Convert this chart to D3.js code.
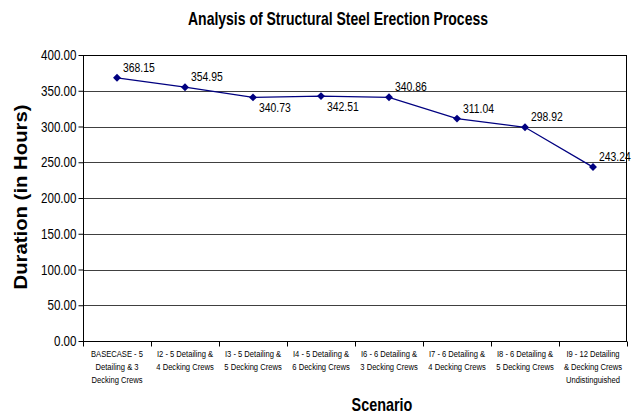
<!DOCTYPE html>
<html><head><meta charset="utf-8">
<script src="https://cdn.jsdelivr.net/npm/d3@7"></script>
<style>body{margin:0;background:#fff}svg{display:block}</style>
</head><body>
<script>
const categories = [
  ["BASECASE - 5","Detailing & 3","Decking Crews"],
  ["I2 - 5 Detailing &","4 Decking Crews"],
  ["I3 - 5 Detailing &","5 Decking Crews"],
  ["I4 - 5 Detailing &","6 Decking Crews"],
  ["I6 - 6 Detailing &","3 Decking Crews"],
  ["I7 - 6 Detailing &","4 Decking Crews"],
  ["I8 - 6 Detailing &","5 Decking Crews"],
  ["I9 - 12 Detailing","& Decking Crews","Undistinguished"]
];
const durations = [368.15, 354.95, 340.73, 342.51, 340.86, 311.04, 298.92, 243.24];
const labelBelow = [false, false, true, true, false, false, false, false];
const yTicks = [0,50,100,150,200,250,300,350,400];

const W=633,H=416;
const m={left:83,right:6,top:55,bottom:75};
const SX=0.8;
const svg=d3.select("body").append("svg").attr("width",W).attr("height",H);
const font="'Liberation Sans',Arial,sans-serif";
const x=d3.scaleBand().domain(d3.range(categories.length)).range([m.left,W-m.right]);
const y=d3.scaleLinear().domain([0,400]).range([H-m.bottom,m.top]);

function ntext(parent,px,py,anchor,size,weight){
  return parent.append("g").attr("transform",`translate(${px},${py}) scale(${SX},1)`)
    .append("text").attr("text-anchor",anchor).attr("font-family",font)
    .attr("font-size",size).attr("font-weight",weight||"normal").attr("fill","#000");
}

// gridlines
svg.append("g").selectAll("line").data(yTicks.slice(1)).join("line")
  .attr("x1",m.left).attr("x2",W-m.right)
  .attr("y1",d=>Math.round(y(d))+0.5).attr("y2",d=>Math.round(y(d))+0.5)
  .attr("stroke","#404040").attr("stroke-width",1);
// frame
svg.append("rect").attr("x",m.left+0.5).attr("y",Math.round(y(400))+0.5)
  .attr("width",W-m.right-m.left-1).attr("height",Math.round(y(0))-Math.round(y(400)))
  .attr("fill","none").attr("stroke","#000");

// y axis
const ya=svg.append("g").attr("transform",`translate(${m.left+0.5},0)`)
  .call(d3.axisLeft(y).tickValues(yTicks).tickFormat(d3.format(".2f")).tickSize(5).tickPadding(2));
ya.select(".domain").remove();
ya.selectAll("line").attr("stroke","#000");
ya.selectAll("text").attr("font-family",font).attr("font-size",14.5).attr("fill","#000")
  .attr("x",-7/SX).attr("transform",`scale(${SX},1)`);

// x axis
const xa=svg.append("g").attr("transform",`translate(0,${Math.round(y(0))+0.5})`);
xa.selectAll("line").data(d3.range(categories.length+1)).join("line")
  .attr("x1",i=>Math.round(m.left+i*x.step())+0.5).attr("x2",i=>Math.round(m.left+i*x.step())+0.5)
  .attr("y1",0).attr("y2",5).attr("stroke","#000");
categories.forEach((lines,i)=>{
  const t=ntext(xa,x(i)+x.bandwidth()/2,0,"middle",9.5);
  lines.forEach((l,j)=>t.append("tspan").attr("x",0).attr("y",16+j*13).text(l));
});

// line
const cx=i=>x(i)+x.bandwidth()/2;
svg.append("path").datum(durations)
  .attr("d",d3.line().x((d,i)=>cx(i)).y(d=>y(d)))
  .attr("fill","none").attr("stroke","#000080").attr("stroke-width",1.3);
svg.append("g").selectAll("path").data(durations).join("path")
  .attr("transform",(d,i)=>`translate(${cx(i)},${y(d)})`)
  .attr("d",d3.symbol(d3.symbolDiamond2,40)).attr("fill","#000080");
const lg=svg.append("g");
durations.forEach((d,i)=>{
  ntext(lg,cx(i)+6,y(d)+(labelBelow[i]?15:-6),"start",13).text(d.toFixed(2));
});

// titles
ntext(svg,338,25,"middle",17.5,"bold").text("Analysis of Structural Steel Erection Process");
ntext(svg,382,411,"middle",18,"bold").text("Scenario");
svg.append("text").attr("transform",`translate(27,197) rotate(-90)`).attr("text-anchor","middle")
  .attr("font-family",font).attr("font-weight","bold").attr("font-size",17.5)
  .attr("textLength",185).attr("lengthAdjust","spacingAndGlyphs")
  .text("Duration (in Hours)");
</script>
</body></html>
